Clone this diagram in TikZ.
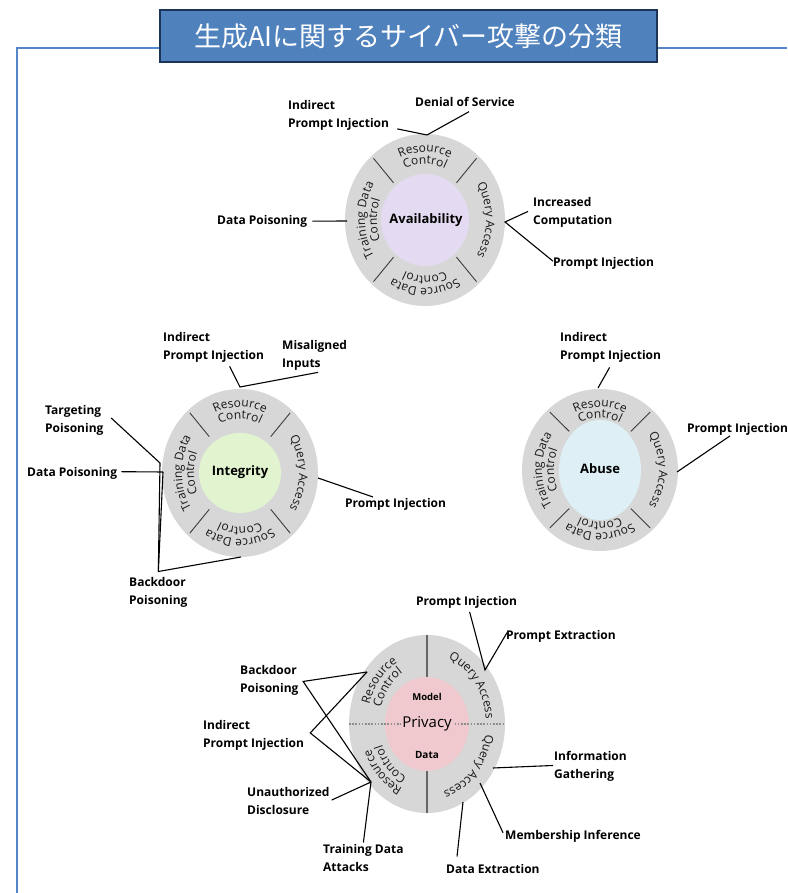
\documentclass[tikz,border=0pt]{standalone}
\usepackage{fontspec}
\setmainfont{Open Sans}
\newfontfamily\cjkfont{Noto Sans CJK JP}
\usetikzlibrary{decorations.text}

\definecolor{ringgray}{RGB}{215,215,215}
\definecolor{availfill}{RGB}{228,219,242}
\definecolor{integfill}{RGB}{226,244,207}
\definecolor{abusefill}{RGB}{222,240,246}
\definecolor{privfill}{RGB}{239,201,206}
\definecolor{frameblue}{RGB}{84,135,200}
\definecolor{titlefill}{RGB}{79,129,189}
\definecolor{titledraw}{RGB}{28,52,85}
\definecolor{tickgray}{RGB}{60,60,60}
\definecolor{segtext}{RGB}{25,25,25}
\definecolor{dotgray}{RGB}{140,140,140}

\newcommand\lblsize{\fontsize{12}{18.5}\selectfont}
\newcommand\segsize{\fontsize{12}{12}\selectfont}

\tikzset{
  lbl/.style={font=\lblsize\bfseries, align=left, inner sep=0pt, anchor=north west},
  link/.style={draw=black, line width=1.1pt},
  divider/.style={draw=tickgray, line width=0.9pt},
  centerlbl/.style={font=\fontsize{13}{15}\selectfont\bfseries, inner sep=0pt},
  arctext/.style={decorate, decoration={text along path, text align=center,
      text color=segtext, text={|\segsize|#1}}},
  frame/.style={draw=frameblue, line width=1.5pt},
  titlebox/.style={fill=titlefill, draw=titledraw, line width=2.8pt,
      minimum width=497pt, minimum height=52pt, inner sep=0pt, text=white,
      font=\cjkfont\fontsize{27}{30}\selectfont},
}

\begin{document}
\begin{tikzpicture}[x=1pt,y=1pt]
\useasboundingbox (0,0) rectangle (787,893);
\fill[white] (0,0) rectangle (787,893);

% outer frame and heading
\draw[frame] (787,845) -- (17,845) -- (17,0);
\node[titlebox] (title) at (408.5,857) {生成AIに関するサイバー攻撃の分類};

% ---------- Availability ----------
\begin{scope}[shift={(425,673)}]
  \fill[ringgray] (0,0) ellipse[x radius=80, y radius=86];
  \fill[availfill] (0,0) ellipse[x radius=44, y radius=46];
  \foreach \a in {48,132,228,312}
    \draw[divider] (\a:47 and 50) -- (\a:77 and 83);
  \path[arctext=Resource] (135:62 and 68) arc[start angle=135, end angle=45, x radius=62, y radius=68];
  \path[arctext=Control] (135:50 and 56) arc[start angle=135, end angle=45, x radius=50, y radius=56];
  \path[arctext=Query Access] (60:61 and 67) arc[start angle=60, end angle=-60, x radius=61, y radius=67];
  \path[arctext=Source Data] (-45:62 and 68) arc[start angle=-45, end angle=-135, x radius=62, y radius=68];
  \path[arctext=Control] (-45:50 and 56) arc[start angle=-45, end angle=-135, x radius=50, y radius=56];
  \path[arctext=Training Data] (225:60 and 68) arc[start angle=225, end angle=135, x radius=60, y radius=68];
  \path[arctext=Control] (225:48 and 56) arc[start angle=225, end angle=135, x radius=48, y radius=56];
  \node[centerlbl] (avail) at (1,0) {Availability};
\end{scope}

\node[lbl] (A1) at (288,793) {Indirect\\Prompt Injection};
\node[lbl] (A2) at (415,796) {Denial of Service};
\node[lbl] (A3) at (217,678) {Data Poisoning};
\node[lbl] (A4) at (533,696) {Increased\\Computation};
\node[lbl] (A5) at (553,636) {Prompt Injection};
\coordinate (jA1) at (427,758);
\coordinate (pA3) at (347,672);
\coordinate (jA4) at (505,671);
\draw[link] ([shift={(8,2)}]A1.south east) -- (jA1) -- ([shift={(4,-5)}]A2.south);
\draw[link] ([xshift=5pt]A3.east) -- (pA3);
\draw[link] ([shift={(-5,1)}]A4.west) -- (jA4) -- ([shift={(0,2)}]A5.west);

% ---------- Integrity ----------
\begin{scope}[shift={(240,420)}]
  \fill[ringgray] (0,0) ellipse[x radius=78, y radius=84];
  \fill[integfill] (0,0) ellipse[x radius=41, y radius=40];
  \foreach \a in {48,132,228,312}
    \draw[divider] (\a:46 and 49) -- (\a:75 and 81);
  \path[arctext=Resource] (135:60 and 66) arc[start angle=135, end angle=45, x radius=60, y radius=66];
  \path[arctext=Control] (135:48 and 54) arc[start angle=135, end angle=45, x radius=48, y radius=54];
  \path[arctext=Query Access] (60:59 and 65) arc[start angle=60, end angle=-60, x radius=59, y radius=65];
  \path[arctext=Source Data] (-45:60 and 66) arc[start angle=-45, end angle=-135, x radius=60, y radius=66];
  \path[arctext=Control] (-45:48 and 54) arc[start angle=-45, end angle=-135, x radius=48, y radius=54];
  \path[arctext=Training Data] (225:58 and 66) arc[start angle=225, end angle=135, x radius=58, y radius=66];
  \path[arctext=Control] (225:46 and 54) arc[start angle=225, end angle=135, x radius=46, y radius=54];
  \node[centerlbl] (integ) at (0,1) {Integrity};
\end{scope}

\node[lbl] (I1) at (163,561) {Indirect\\Prompt Injection};
\node[lbl] (I2) at (282,553) {Misaligned\\Inputs};
\node[lbl] (I3) at (45,488) {Targeting\\Poisoning};
\node[lbl] (I4) at (27,426) {Data Poisoning};
\node[lbl] (I5) at (129,316) {Backdoor\\Poisoning};
\node[lbl] (I6) at (345,395) {Prompt Injection};
\coordinate (jI1) at (240,506);
\coordinate (pT) at (160,430);
\coordinate (pD) at (163,421);
\coordinate (pS) at (241,336);
\coordinate (pQ) at (318,415);
\draw[link] ([shift={(16,-3.5)}]I1.south) -- (jI1) -- ([shift={(36,-1.5)}]I2.south west);
\draw[link] ([shift={(7.5,2.5)}]I3.east) -- (pT);
\draw[link] ([shift={(4,1.5)}]I4.east) -- (pD);
\draw[link] (pD) -- ([yshift=5.5pt]I5.north) -- (pS);
\draw[link] (pT) -- ([yshift=5.5pt]I5.north);
\draw[link] (pQ) -- ([shift={(28,1)}]I6.north west);

% ---------- Abuse ----------
\begin{scope}[shift={(600,423)}]
  \fill[ringgray] (0,0) ellipse[x radius=78, y radius=81];
  \fill[abusefill] (0,0) ellipse[x radius=41, y radius=50];
  \foreach \a in {48,132,228,312}
    \draw[divider] (\a:46 and 52) -- (\a:75 and 78);
  \path[arctext=Resource] (135:60 and 63) arc[start angle=135, end angle=45, x radius=60, y radius=63];
  \path[arctext=Control] (135:48 and 52) arc[start angle=135, end angle=45, x radius=48, y radius=52];
  \path[arctext=Query Access] (60:59 and 62) arc[start angle=60, end angle=-60, x radius=59, y radius=62];
  \path[arctext=Source Data] (-45:60 and 63) arc[start angle=-45, end angle=-135, x radius=60, y radius=63];
  \path[arctext=Control] (-45:48 and 52) arc[start angle=-45, end angle=-135, x radius=48, y radius=52];
  \path[arctext=Training Data] (225:58 and 63) arc[start angle=225, end angle=135, x radius=58, y radius=63];
  \path[arctext=Control] (225:46 and 52) arc[start angle=225, end angle=135, x radius=46, y radius=52];
  \node[centerlbl] (abuse) at (0,1) {Abuse};
\end{scope}

\node[lbl] (B1) at (560,561) {Indirect\\Prompt Injection};
\node[lbl] (B2) at (687,470) {Prompt Injection};
\coordinate (pB1) at (598,505);
\coordinate (pB2) at (677,421);
\draw[link] ([shift={(-1,-4.5)}]B1.south) -- (pB1);
\draw[link] ([shift={(43,-0.5)}]B2.south west) -- (pB2);

% ---------- Privacy ----------
\begin{scope}[shift={(427,169)}]
  \fill[ringgray] (0,0) ellipse[x radius=78, y radius=89];
  \fill[privfill] (0,0) ellipse[x radius=42, y radius=47];
  \draw[draw=gray!80!black, line width=1.4pt] (0,89) -- (0,47);
  \draw[draw=gray!80!black, line width=1.4pt] (0,-47) -- (0,-89);
  \draw[draw=dotgray, line width=1.8pt, dash pattern=on 1.6pt off 1.6pt] (-78,0) -- (78,0);
  \path[arctext=Resource] (185:60 and 71) arc[start angle=185, end angle=95, x radius=60, y radius=71];
  \path[arctext=Control] (185:48 and 59) arc[start angle=185, end angle=95, x radius=48, y radius=59];
  \path[arctext=Query Access] (85:59 and 70) arc[start angle=85, end angle=-10, x radius=59, y radius=70];
  \path[arctext=Query Access] (5:59 and 70) arc[start angle=5, end angle=-90, x radius=59, y radius=70];
  \path[arctext=Resource] (-90:60 and 71) arc[start angle=-90, end angle=-180, x radius=60, y radius=71];
  \path[arctext=Control] (-90:48 and 59) arc[start angle=-90, end angle=-180, x radius=48, y radius=59];
  \node[font=\fontsize{9.5}{11}\selectfont\bfseries, inner sep=0pt] (model) at (0,27) {Model};
  \node[font=\fontsize{15}{17}\selectfont, fill=privfill, inner sep=1.5pt] (priv) at (0,0) {Privacy};
  \node[font=\fontsize{10}{12}\selectfont\bfseries, inner sep=0pt] (data) at (0,-31) {Data};
\end{scope}

\node[lbl] (P1) at (416,297) {Prompt Injection};
\node[lbl] (P2) at (506,263) {Prompt Extraction};
\node[lbl] (P3) at (240,228) {Backdoor\\Poisoning};
\node[lbl] (P4) at (203,173) {Indirect\\Prompt Injection};
\node[lbl] (P5) at (247,106) {Unauthorized\\Disclosure};
\node[lbl] (P6) at (323,49) {Training Data\\Attacks};
\node[lbl] (P7) at (554,142) {Information\\Gathering};
\node[lbl] (P8) at (505,63) {Membership Inference};
\node[lbl] (P9) at (446,29) {Data Extraction};
\coordinate (jP) at (485,223);
\coordinate (rTL) at (367,221);
\coordinate (rBL) at (371,111);
\coordinate (pIG) at (493,125);
\coordinate (pMI) at (480,110);
\coordinate (pDE) at (463,91);
\draw[link] ([shift={(3,-3.5)}]P1.south) -- (jP) -- ([shift={(1,3.5)}]P2.west);
\draw[link] (rTL) -- ([shift={(4.5,-1)}]P3.east) -- (rBL);
\draw[link] (rTL) -- ([shift={(6,2.5)}]P4.east) -- (rBL);
\draw[link] ([shift={(2,1)}]P5.east) -- (rBL);
\draw[link] ([shift={(0,1.5)}]P6.north) -- (rBL);
\draw[link] (pIG) -- ([shift={(-1,1)}]P7.west);
\draw[link] (pMI) -- ([shift={(-2,3.5)}]P8.west);
\draw[link] (pDE) -- ([shift={(11,7.5)}]P9.north west);
\end{tikzpicture}
\end{document}
